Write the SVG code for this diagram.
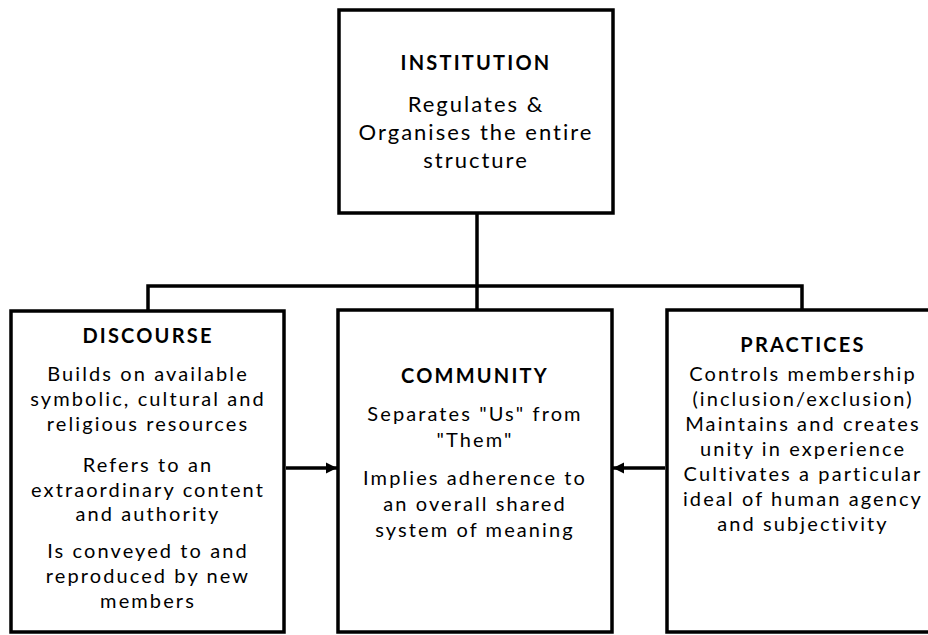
<svg xmlns="http://www.w3.org/2000/svg" width="928" height="635" viewBox="0 0 928 635">
<defs>
<style>
.box{fill:#fff;stroke:#000;stroke-width:3.5}
.ln{fill:none;stroke:#000;stroke-width:3.5}
.t{font-family:Lato,"Open Sans",sans-serif;font-weight:bold;font-size:20px;letter-spacing:2.2px;text-anchor:middle;fill:#000}
.b{font-family:Lato,"Open Sans",sans-serif;font-size:20px;letter-spacing:2.1px;text-anchor:middle;fill:#000}
.bi{font-family:Lato,"Open Sans",sans-serif;font-size:22px;letter-spacing:2px;text-anchor:middle;fill:#000}
</style>
<marker id="ah" viewBox="0 0 10 10" refX="10" refY="5" markerWidth="3.2" markerHeight="3.2" orient="auto" markerUnits="strokeWidth">
<path d="M0,0 L10,5 L0,10 Z" fill="#000"/>
</marker>
</defs>
<rect width="928" height="635" fill="#fff"/>
<g id="connectors">
<path class="ln" d="M477,213 V310"/>
<path class="ln" d="M148,310 V286 H802 V310"/>
<line class="ln" x1="286" y1="468" x2="337" y2="468" marker-end="url(#ah)"/>
<line class="ln" x1="665" y1="468" x2="613" y2="468" marker-end="url(#ah)"/>
</g>
<g id="institution">
<rect class="box" x="339" y="10" width="274" height="203"/>
<text class="t" x="476" y="70">INSTITUTION</text>
<text class="bi" x="476" y="112">Regulates &amp;</text>
<text class="bi" x="476" y="140">Organises the entire</text>
<text class="bi" x="476" y="168">structure</text>
</g>
<g id="discourse">
<rect class="box" x="11" y="311" width="273" height="321"/>
<text class="t" x="148" y="343">DISCOURSE</text>
<text class="b" x="148" y="381">Builds on available</text>
<text class="b" x="148" y="406">symbolic, cultural and</text>
<text class="b" x="148" y="431">religious resources</text>
<text class="b" x="148" y="472">Refers to an</text>
<text class="b" x="148" y="497">extraordinary content</text>
<text class="b" x="148" y="521">and authority</text>
<text class="b" x="148" y="558">Is conveyed to and</text>
<text class="b" x="148" y="583">reproduced by new</text>
<text class="b" x="148" y="608">members</text>
</g>
<g id="community">
<rect class="box" x="338" y="310" width="274" height="322"/>
<text class="t" x="475" y="383">COMMUNITY</text>
<text class="b" x="475" y="421">Separates "Us" from</text>
<text class="b" x="475" y="447">"Them"</text>
<text class="b" x="475" y="485">Implies adherence to</text>
<text class="b" x="475" y="511">an overall shared</text>
<text class="b" x="475" y="537">system of meaning</text>
</g>
<g id="practices">
<rect class="box" x="667" y="310" width="273" height="322"/>
<text class="t" x="803" y="352">PRACTICES</text>
<text class="b" x="803" y="381">Controls membership</text>
<text class="b" x="803" y="406">(inclusion/exclusion)</text>
<text class="b" x="803" y="431">Maintains and creates</text>
<text class="b" x="803" y="456">unity in experience</text>
<text class="b" x="803" y="481">Cultivates a particular</text>
<text class="b" x="803" y="506">ideal of human agency</text>
<text class="b" x="803" y="531">and subjectivity</text>
</g>
</svg>
